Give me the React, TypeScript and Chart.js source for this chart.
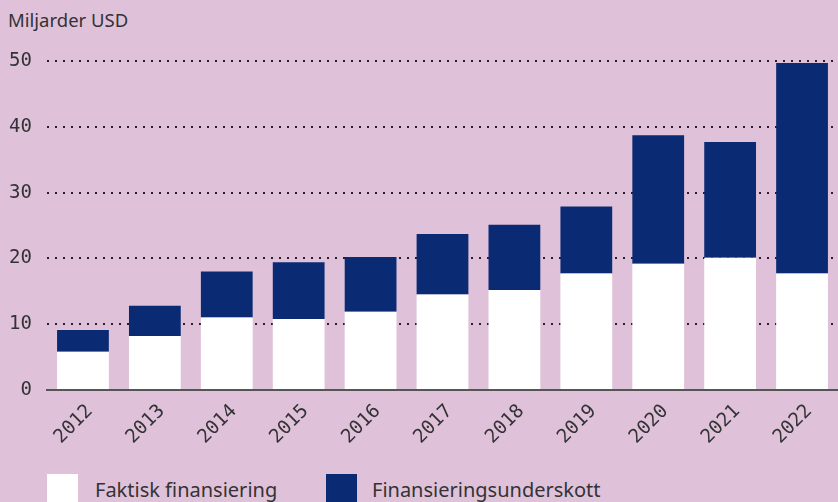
import React, { useEffect, useRef } from "react";
import { Chart, registerables } from "chart.js";

Chart.register(...registerables);

const categories = ["2012", "2013", "2014", "2015", "2016", "2017", "2018", "2019", "2020", "2021", "2022"];
const actualFunding = [5.8, 8.2, 11.0, 10.8, 11.9, 14.5, 15.2, 17.7, 19.2, 20.1, 17.7];
const fundingGap = [3.3, 4.6, 7.0, 8.6, 8.3, 9.2, 9.9, 10.2, 19.5, 17.6, 32.0];
const yTicks = [0, 10, 20, 30, 40, 50];
const seriesNames = ["Faktisk finansiering", "Finansieringsunderskott"];
const seriesColors = ["#ffffff", "#0a2a74"];

const BG = "#dfc2da";
const TEXT = "#333333";
const SANS = "'Noto Sans', sans-serif";
const MONO = "'DejaVu Sans Mono', monospace";

export default function App() {
  const ref = useRef<HTMLCanvasElement | null>(null);

  useEffect(() => {
    if (!ref.current) return;
    const chart = new Chart(ref.current, {
      type: "bar",
      data: {
        labels: categories,
        datasets: [
          { label: seriesNames[0], data: actualFunding, backgroundColor: seriesColors[0], borderWidth: 0 },
          { label: seriesNames[1], data: fundingGap, backgroundColor: seriesColors[1], borderWidth: 0 },
        ],
      },
      options: {
        responsive: false,
        animation: false,
        layout: { padding: { top: 61, left: 0, right: 0, bottom: 0 } },
        datasets: { bar: { categoryPercentage: 1, barPercentage: 0.72 } },
        plugins: { legend: { display: false }, tooltip: { enabled: false }, title: { display: false } },
        scales: {
          x: {
            stacked: true,
            offset: true,
            grid: { display: false, drawTicks: false },
            border: { display: true, color: "#555555", width: 2 },
            ticks: {
              color: TEXT,
              font: { family: MONO, size: 19 },
              minRotation: 45,
              maxRotation: 45,
              padding: 10,
              labelOffset: 7,
              autoSkip: false,
            },
            afterFit: (s: any) => { s.height = 80; },
          },
          y: {
            stacked: true,
            min: 0,
            max: 50,
            afterBuildTicks: (s: any) => { s.ticks = yTicks.map((v) => ({ value: v })); },
            grid: {
              drawTicks: false,
              lineWidth: 2,
              color: (ctx: any) => (ctx.tick && ctx.tick.value === 0 ? "rgba(0,0,0,0)" : "#222222"),
            },
            border: { display: false, dash: [2, 6] },
            ticks: { color: TEXT, font: { family: MONO, size: 19 }, padding: 15 },
            afterFit: (s: any) => { s.width = 47; },
          },
        },
      },
    });
    return () => chart.destroy();
  }, []);

  const legendItem = (i: number, boxLeft: number, textLeft: number) => (
    <React.Fragment key={i}>
      <div style={{ position: "absolute", left: boxLeft, top: 474, width: 31, height: 31, background: seriesColors[i] }} />
      <div style={{ position: "absolute", left: textLeft, top: 480, fontFamily: SANS, fontSize: 20, lineHeight: "20px", color: TEXT, whiteSpace: "nowrap" }}>
        {seriesNames[i]}
      </div>
    </React.Fragment>
  );

  return (
    <div style={{ position: "fixed", left: 0, top: 0, width: 838, height: 502, overflow: "hidden", background: BG }}>
      <div style={{ position: "absolute", left: 8, top: 11, fontFamily: SANS, fontSize: 18.5, lineHeight: "18.5px", color: TEXT, whiteSpace: "nowrap" }}>
        Miljarder USD
      </div>
      <canvas ref={ref} width={838} height={470} style={{ position: "absolute", left: 0, top: 0, width: 838, height: 470 }} />
      {legendItem(0, 47, 95)}
      {legendItem(1, 326, 372)}
    </div>
  );
}
